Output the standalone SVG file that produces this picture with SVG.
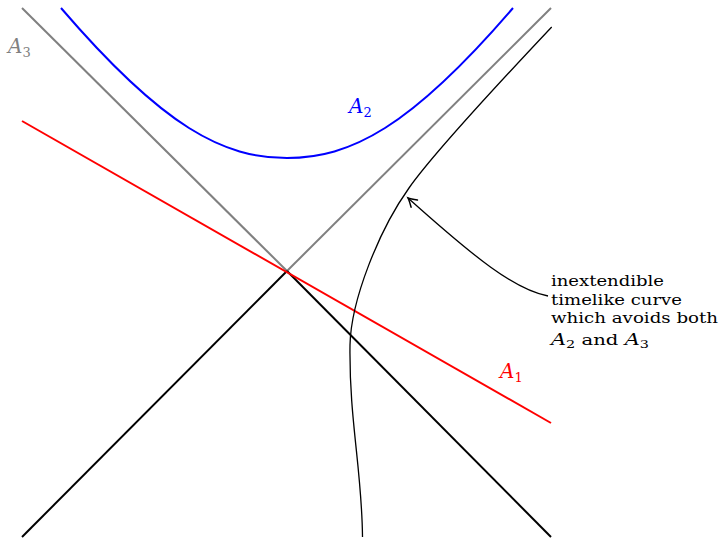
<svg xmlns="http://www.w3.org/2000/svg" width="723" height="541" viewBox="0 0 723 541">
<style>
.thick{fill:none;stroke-width:2;stroke-linecap:butt}
.thin{fill:none;stroke:#000;stroke-width:1.3}
.lbl{font-family:"DejaVu Serif",serif;font-style:italic;font-size:20px}
.sub{font-style:normal;font-size:13px}
.note{font-family:"DejaVu Serif",serif;font-size:14.5px;fill:#000}
</style>
<defs>
<marker id="arr" markerUnits="userSpaceOnUse" markerWidth="14" markerHeight="14" viewBox="-8 -5 10 10" refX="0" refY="0" orient="auto">
<path d="M-6,-3.4 Q-2,-0.8 0,0 Q-2,0.8 -6,3.4" fill="none" stroke="#000" stroke-width="1.1" stroke-linecap="round"/>
</marker>
</defs>
<rect width="723" height="541" fill="#fff"/>
<g id="connectors">
<path id="A3-left" class="thick" stroke="#808080" d="M22,8 L287,271"/>
<path id="A3-right" class="thick" stroke="#808080" d="M287,271 L551,8"/>
<path id="cone-left" class="thick" stroke="#000" d="M22,537 L287,271"/>
<path id="cone-right" class="thick" stroke="#000" d="M287,271 L551,537"/>
<path id="A1-line" class="thick" stroke="#ff0000" d="M22,121 L551,423"/>
<path id="A2-curve" class="thick" stroke="#0000ff" d="M61,8 C164,128 224,158 287,158 C350,158 410,128 513,8"/>
<path id="timelike" class="thin" d="M362.5,537 C362,470 349,420 350,345 C351,300 379,230 409,188 C428,161 480,103 551.7,27"/>
<path id="pointer" class="thin" marker-end="url(#arr)" d="M548,296 C515,290 475,258 408,198"/>
</g>
<g id="label-A3"><text class="lbl" x="8" y="53" fill="#808080">A<tspan class="sub" dy="4">3</tspan></text></g>
<g id="label-A2"><text class="lbl" x="349" y="113" fill="#0000ff">A<tspan class="sub" dy="4">2</tspan></text></g>
<g id="label-A1"><text class="lbl" x="500" y="378" fill="#ff0000">A<tspan class="sub" dy="4">1</tspan></text></g>
<g id="note">
<text class="note" x="551" y="286" textLength="113" lengthAdjust="spacingAndGlyphs">inextendible</text>
<text class="note" x="551" y="304.5" textLength="131" lengthAdjust="spacingAndGlyphs">timelike curve</text>
<text class="note" x="551" y="323" textLength="167" lengthAdjust="spacingAndGlyphs">which avoids both</text>
<text class="note" x="551" y="345" textLength="98" lengthAdjust="spacingAndGlyphs"><tspan font-style="italic" font-size="16">A</tspan><tspan font-size="11" dy="3">2</tspan><tspan dy="-3" font-size="15"> and </tspan><tspan font-style="italic" font-size="16">A</tspan><tspan font-size="11" dy="3">3</tspan></text>
</g>
</svg>
